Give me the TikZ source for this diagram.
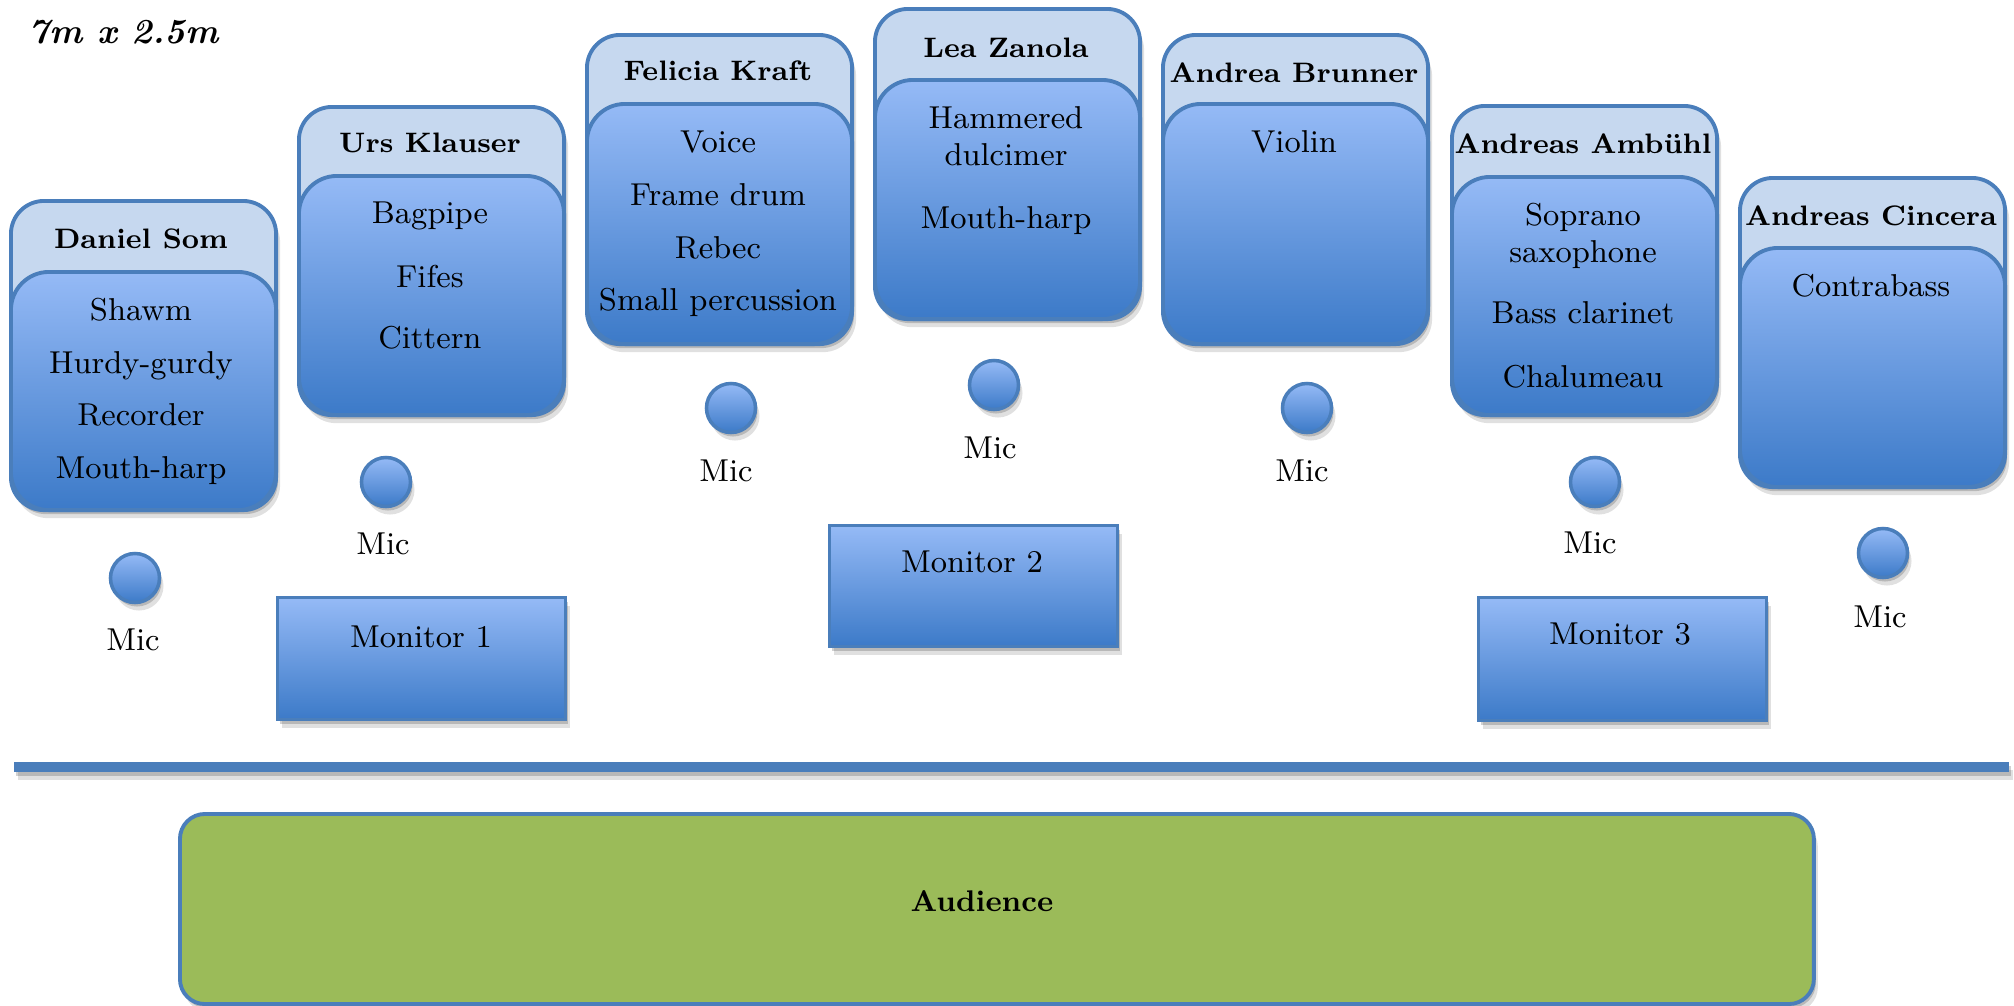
\documentclass[tikz,border=0pt]{standalone}
\usetikzlibrary{shadows}
\definecolor{bord}{HTML}{4A7EBB}
\definecolor{headfill}{HTML}{C6D8EF}
\definecolor{gtop}{HTML}{95BAF6}
\definecolor{gbot}{HTML}{3C7AC8}
\definecolor{audfill}{HTML}{9BBB59}
\tikzset{
  softshadow/.style={
    drop shadow={shadow xshift=0.02cm, shadow yshift=-0.04cm, opacity=0.18, fill=black},
    drop shadow={shadow xshift=0.04cm, shadow yshift=-0.08cm, opacity=0.12, fill=black}},
  headbox/.style={draw=bord, line width=1.1pt, fill=headfill, rounded corners=0.33cm,
    minimum width=2.65cm, inner sep=0pt, anchor=north west, softshadow},
  bodybox/.style={draw=bord, line width=1.1pt, top color=gtop, bottom color=gbot,
    rounded corners=0.38cm, minimum width=2.65cm, inner sep=0pt, anchor=north west},
  monbox/.style={draw=bord, line width=0.9pt, top color=gtop, bottom color=gbot,
    inner sep=0pt, anchor=north west, minimum width=2.88cm, softshadow},
  micdot/.style={circle, draw=bord, line width=1pt, top color=gtop, bottom color=gbot,
    minimum size=0.49cm, inner sep=0pt, softshadow},
  headtxt/.style={font=\bfseries\fontsize{8}{10}\selectfont, anchor=base, inner sep=0pt},
  itemtxt/.style={font=\fontsize{9}{11}\selectfont, anchor=base, inner sep=0pt},
  stagebar/.style={fill=bord, inner sep=0pt, anchor=north west, minimum width=19.94cm,
    minimum height=0.1cm, softshadow},
  audbox/.style={draw=bord, line width=1.1pt, fill=audfill, rounded corners=0.25cm,
    inner sep=0pt, anchor=north west, minimum width=16.33cm, minimum height=1.90cm, softshadow}
}
\begin{document}
\begin{tikzpicture}[x=0.01cm,y=-0.01cm]
\useasboundingbox (0,0) rectangle (2014,1005);

% title
\node[font=\bfseries\itshape\fontsize{10}{12}\selectfont, anchor=base west, inner sep=0pt] (dim) at (28,43) {7m x 2.5m};

% ---- Daniel Som
\node[headbox, minimum height=3.09cm] (h1) at (9,199) {};
\node[bodybox, minimum height=2.38cm] (b1) at (9,270) {};
\node[headtxt] (n1) at (141,248) {Daniel Som};
\node[itemtxt] (i1a) at (141,320) {Shawm};
\node[itemtxt] (i1b) at (141,373) {Hurdy-gurdy};
\node[itemtxt] (i1c) at (141,425) {Recorder};
\node[itemtxt] (i1d) at (141,478) {Mouth-harp};

% ---- Urs Klauser
\node[headbox, minimum height=3.08cm] (h2) at (297,105) {};
\node[bodybox, minimum height=2.39cm] (b2) at (297,174) {};
\node[headtxt] (n2) at (430,152) {Urs Klauser};
\node[itemtxt] (i2a) at (430,223) {Bagpipe};
\node[itemtxt] (i2b) at (430,287) {Fifes};
\node[itemtxt] (i2c) at (430,348) {Cittern};

% ---- Felicia Kraft
\node[headbox, minimum height=3.09cm] (h3) at (585,33) {};
\node[bodybox, minimum height=2.40cm] (b3) at (585,102) {};
\node[headtxt] (n3) at (718,80) {Felicia Kraft};
\node[itemtxt] (i3a) at (718,152) {Voice};
\node[itemtxt] (i3b) at (718,205) {Frame drum};
\node[itemtxt] (i3c) at (718,258) {Rebec};
\node[itemtxt] (i3d) at (718,310) {Small percussion};

% ---- Lea Zanola
\node[headbox, minimum height=3.10cm] (h4) at (873,7) {};
\node[bodybox, minimum height=2.39cm] (b4) at (873,78) {};
\node[headtxt] (n4) at (1006,57) {Lea Zanola};
\node[itemtxt] (i4a) at (1006,128) {Hammered};
\node[itemtxt] (i4b) at (1006,165) {dulcimer};
\node[itemtxt] (i4c) at (1006,228) {Mouth-harp};

% ---- Andrea Brunner
\node[headbox, minimum height=3.09cm] (h5) at (1161,33) {};
\node[bodybox, minimum height=2.40cm] (b5) at (1161,102) {};
\node[headtxt] (n5) at (1294,82) {Andrea Brunner};
\node[itemtxt] (i5a) at (1294,152) {Violin};

% ---- Andreas Ambuehl
\node[headbox, minimum height=3.09cm] (h6) at (1450,104) {};
\node[bodybox, minimum height=2.38cm] (b6) at (1450,175) {};
\node[headtxt] (n6) at (1583,153) {Andreas Ambühl};
\node[itemtxt] (i6a) at (1583,225) {Soprano};
\node[itemtxt] (i6b) at (1583,262) {saxophone};
\node[itemtxt] (i6c) at (1583,323) {Bass clarinet};
\node[itemtxt] (i6d) at (1583,387) {Chalumeau};

% ---- Andreas Cincera
\node[headbox, minimum height=3.09cm] (h7) at (1738,176) {};
\node[bodybox, minimum height=2.39cm] (b7) at (1738,246) {};
\node[headtxt] (n7) at (1871,225) {Andreas Cincera};
\node[itemtxt] (i7a) at (1871,296) {Contrabass};

% ---- mics
\node[micdot] (m1) at (135,578) {};
\node[itemtxt] (l1) at (133,650) {Mic};
\node[micdot] (m2) at (386,482) {};
\node[itemtxt] (l2) at (383,554) {Mic};
\node[micdot] (m3) at (731,408) {};
\node[itemtxt] (l3) at (726,481) {Mic};
\node[micdot] (m4) at (994,385) {};
\node[itemtxt] (l4) at (990,458) {Mic};
\node[micdot] (m5) at (1307,408) {};
\node[itemtxt] (l5) at (1302,481) {Mic};
\node[micdot] (m6) at (1595,482) {};
\node[itemtxt] (l6) at (1590,553) {Mic};
\node[micdot] (m7) at (1883,553) {};
\node[itemtxt] (l7) at (1880,627) {Mic};

% ---- monitors
\node[monbox, minimum height=1.22cm] (mon1) at (276,596) {};
\node[itemtxt] (t1) at (421,647) {Monitor 1};
\node[monbox, minimum height=1.21cm] (mon2) at (828,524) {};
\node[itemtxt] (t2) at (972,572) {Monitor 2};
\node[monbox, minimum height=1.23cm] (mon3) at (1477,596) {};
\node[itemtxt] (t3) at (1620,644) {Monitor 3};

% ---- stage edge and audience
\node[stagebar] (stage) at (13,761) {};
\node[audbox] (aud) at (178,812) {};
\node[headtxt, font=\bfseries\fontsize{8.5}{10}\selectfont] (audt) at (982,911) {Audience};
\end{tikzpicture}
\end{document}
